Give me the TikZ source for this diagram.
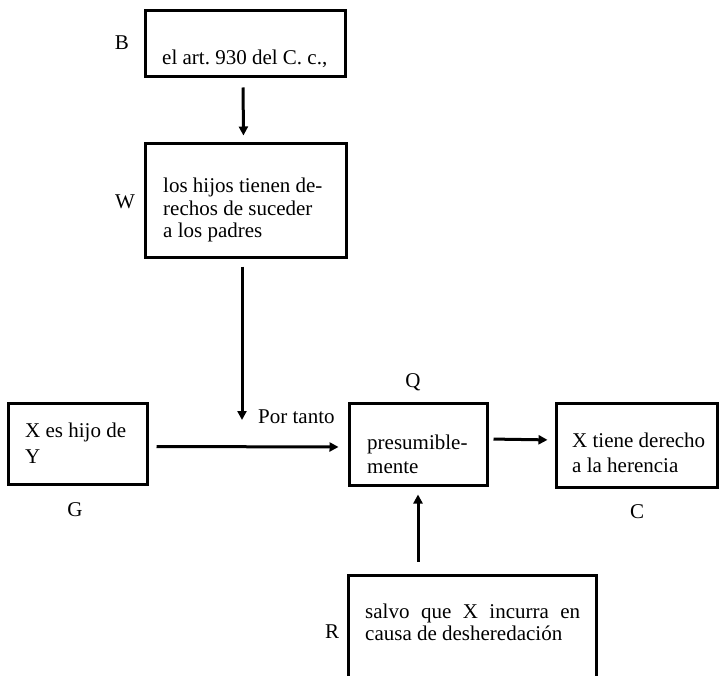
\documentclass[tikz,border=0pt]{standalone}
\usepackage{fontspec}
\setmainfont{Liberation Serif}
\usetikzlibrary{arrows.meta,calc}
\frenchspacing
\begin{document}
\begin{tikzpicture}[x=1pt,y=-1pt,
  box/.style={draw,line width=3pt,rectangle,inner sep=0pt},
  txt/.style={inner sep=0pt,anchor=base west,font=\fontsize{21}{24}\selectfont\frenchspacing,align=left},
  lbl/.style={inner sep=0pt,font=\fontsize{21}{24}\selectfont},
  arr/.style={line width=3pt,-{Triangle[length=9pt,width=9pt]}},
  ln/.style={line width=3pt}]
\useasboundingbox (0,0) rectangle (719,676);
% boxes
\node[box,minimum width=200pt,minimum height=66pt] (Bbox) at (245,44) {};
\node[box,minimum width=201pt,minimum height=113pt] (Wbox) at (245.5,200.5) {};
\node[box,minimum width=139pt,minimum height=81pt] (Gbox) at (77.5,443.5) {};
\node[box,minimum width=138pt,minimum height=82pt] (Qbox) at (418,444) {};
\node[box,minimum width=161pt,minimum height=84pt] (Cbox) at (636.5,445) {};
\node[inner sep=0pt,minimum width=247pt,minimum height=108pt] (Rbox) at (472.5,630) {};
\draw[ln] (Rbox.south west) -- (Rbox.north west) -- (Rbox.north east) -- (Rbox.south east);
% texts
\node[txt] (Btext) at (162,65) {el art. 930 del C. c.,};
\node[txt] (Wtext1) at (163,193) {los hijos tienen de-};
\node[txt] (Wtext2) at (163,215) {rechos de suceder};
\node[txt] (Wtext3) at (163,237) {a los padres};
\node[txt] (Gtext1) at (25,437) {X es hijo de};
\node[txt] (Gtext2) at (25,463) {Y};
\node[txt] (Qtext1) at (367,449) {presumible-};
\node[txt] (Qtext2) at (367,473) {mente};
\node[txt] (Ctext1) at (572,447) {X tiene derecho};
\node[txt] (Ctext2) at (572,472) {a la herencia};
\node[txt] (Rtext1) at (365,618) {\hbox to 215pt{salvo\hfill que\hfill X\hfill incurra\hfill en}};
\node[txt] (Rtext2) at (365,640) {causa de desheredación};
\node[txt] (portanto) at (258,423) {Por tanto};
% labels
\node[lbl] (Blbl) at (122,43) {B};
\node[lbl] (Wlbl) at (125,202) {W};
\node[lbl] (Glbl) at (75,510) {G};
\node[lbl] (Qlbl) at (413,382) {Q};
\node[lbl] (Clbl) at (637,512) {C};
\node[lbl] (Rlbl) at (332,632) {R};
% connectors
\coordinate (Wend) at (242,420);
\draw[arr,shorten <=9pt,shorten >=7pt] ([xshift=-2pt]Bbox.south) -- ([xshift=-2pt]Wbox.north);
\draw[arr,shorten <=8pt] ([xshift=-3.5pt]Wbox.south) -- (Wend);
\draw[arr,shorten <=8pt,shorten >=9pt] ([yshift=-3pt]Gbox.east) -- ([yshift=-3pt]Qbox.west);
\draw[arr,shorten <=5pt,shorten >=7pt] ([yshift=5pt]Qbox.east) -- ([yshift=5pt]Cbox.west);
\draw[arr,shorten <=14pt,shorten >=8pt] (Qbox.south |- Rbox.north) -- (Qbox.south);
\end{tikzpicture}
\end{document}
